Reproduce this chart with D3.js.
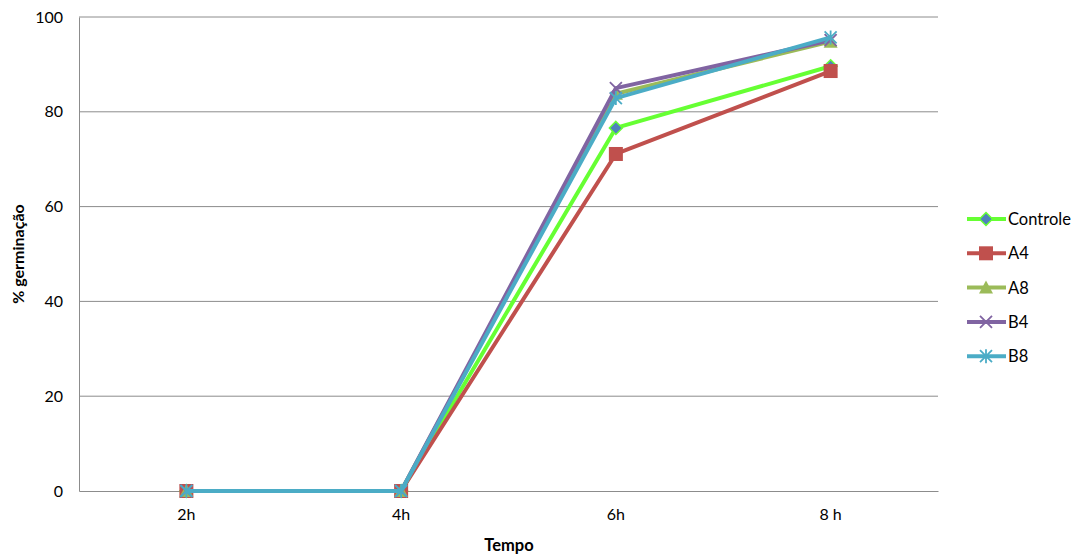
<!DOCTYPE html>
<html lang="pt">
<head>
  <meta charset="UTF-8">
  <title>germinação</title>
  <script src="https://cdn.jsdelivr.net/npm/d3@7"></script>
  <style>
    body { margin: 0; background: #fff; }
    text { font-family: Lato, Calibri, sans-serif; fill: #000; }
  </style>
</head>
<body>
  <svg width="1078" height="554"></svg>
  <script>
    var categories = ['2h', '4h', '6h', '8 h']
    var seriesNames = ['Controle', 'A4', 'A8', 'B4', 'B8']
    var controle = [0, 0, 76.6, 89.6]
    var a4 = [0, 0, 71.1, 88.6]
    var a8 = [0, 0, 83.8, 94.8]
    var b4 = [0, 0, 85.0, 95.1]
    var b8 = [0, 0, 82.9, 95.7]
    var yTicks = [0, 20, 40, 60, 80, 100]

    var colors = ['#66ff33', '#c0504d', '#9bbb59', '#8064a2', '#4bacc6']
    var markers = ['diamond', 'square', 'triangle', 'x', 'star']
    var series = [controle, a4, a8, b4, b8].map((v, i) => ({ name: seriesNames[i], values: v, color: colors[i], marker: markers[i] }))

    var svg = d3.select('svg')
    // plot area (note: "top" is reserved on window)
    var pLeft = 79, pRight = 938, pTop = 17, pBottom = 491
    var font = 'Lato, Calibri, sans-serif'

    var x = d3.scaleBand().domain(categories).range([pLeft, pRight])
    var y = d3.scaleLinear().domain([0, 100]).range([pBottom, pTop])

    // grid
    svg.append('g').selectAll('line')
      .data(yTicks.filter(d => d > 0))
      .enter().append('line')
      .attr('x1', pLeft).attr('x2', pRight)
      .attr('y1', d => y(d)).attr('y2', d => y(d))
      .attr('stroke', '#8c8c8c').attr('stroke-width', 1)

    var yAxis = svg.append('g')
      .attr('transform', `translate(${pLeft},0)`)
      .call(d3.axisLeft(y).tickValues(yTicks).tickSize(0).tickPadding(16))
    yAxis.select('.domain').attr('stroke', '#8c8c8c')
    yAxis.selectAll('text').style('font-size', '16px').style('font-family', font).attr('fill', '#000')

    var xAxis = svg.append('g')
      .attr('transform', `translate(0,${pBottom})`)
      .call(d3.axisBottom(x).tickSize(0).tickPadding(18))
    xAxis.select('.domain').attr('stroke', '#8c8c8c')
    xAxis.selectAll('text').style('font-size', '16px').style('font-family', font).attr('fill', '#000')

    svg.append('text')
      .attr('x', 509).attr('y', 551)
      .attr('text-anchor', 'middle')
      .style('font-size', '16.5px').style('font-weight', 'bold')
      .text('Tempo')

    svg.append('text')
      .attr('transform', `translate(24,${(pTop + pBottom) / 2}) rotate(-90)`)
      .attr('text-anchor', 'middle')
      .style('font-size', '16px').style('font-weight', 'bold')
      .text('% germinação')

    function drawMarker(g, type, color) {
      if (type === 'diamond') {
        g.append('path').attr('d', 'M0,-6.5L6.5,0L0,6.5L-6.5,0Z')
          .attr('fill', '#4f81bd').attr('stroke', color).attr('stroke-width', 1.5)
      } else if (type === 'square') {
        g.append('rect').attr('x', -7).attr('y', -7).attr('width', 14).attr('height', 14)
          .attr('fill', color)
      } else if (type === 'triangle') {
        g.append('path').attr('d', 'M0,-7L7,6L-7,6Z').attr('fill', color)
      } else if (type === 'x') {
        g.append('path').attr('d', 'M-6,-6L6,6M-6,6L6,-6')
          .attr('stroke', color).attr('stroke-width', 1.8).attr('fill', 'none')
      } else {
        g.append('path').attr('d', 'M-6,-6L6,6M-6,6L6,-6M0,-7L0,7')
          .attr('stroke', color).attr('stroke-width', 1.8).attr('fill', 'none')
      }
    }

    var line = d3.line()
      .x((d, i) => x(categories[i]) + x.bandwidth() / 2)
      .y(d => y(d))

    series.forEach(s => {
      var g = svg.append('g')
      g.append('path')
        .attr('d', line(s.values))
        .attr('fill', 'none')
        .attr('stroke', s.color)
        .attr('stroke-width', 4)
        .attr('stroke-linejoin', 'round')
      s.values.forEach((v, i) => {
        var m = g.append('g')
          .attr('transform', `translate(${x(categories[i]) + x.bandwidth() / 2},${y(v)})`)
        drawMarker(m, s.marker, s.color)
      })
    })

    // legend
    var legend = svg.append('g')
    series.forEach((s, i) => {
      var ly = 219 + i * 34.3
      var lg = legend.append('g').attr('transform', `translate(967,${ly})`)
      lg.append('line').attr('x1', 0).attr('x2', 39).attr('y1', 0).attr('y2', 0)
        .attr('stroke', s.color).attr('stroke-width', 4)
      var m = lg.append('g').attr('transform', 'translate(19,0)')
      drawMarker(m, s.marker, s.color)
      lg.append('text').attr('x', 41).attr('y', 6)
        .style('font-size', '16.5px')
        .text(s.name)
    })
  </script>
</body>
</html>
